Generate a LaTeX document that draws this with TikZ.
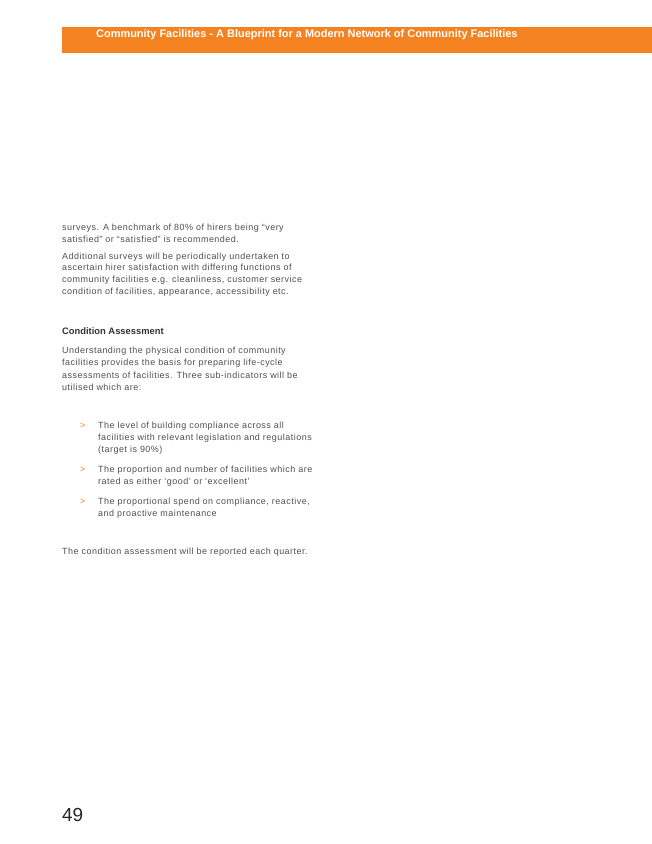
\documentclass[tikz,border=0pt]{standalone}
\usepackage{fontspec}
\setmainfont{Liberation Sans}
\newfontfamily\bodyfont[LetterSpace=5.5]{Liberation Sans}
\definecolor{orng}{HTML}{F58220}
\definecolor{txt}{HTML}{505050}
\begin{document}
\begin{tikzpicture}[x=1bp,y=-1bp,
  body/.style={anchor=west,inner sep=0pt,text=txt,font=\bodyfont\fontsize{9}{10}\selectfont},
  bul/.style={anchor=west,inner sep=0pt,text=orng,font=\bodyfont\fontsize{9}{10}\selectfont}]
\useasboundingbox[fill=white] (0,0) rectangle (652,844);
\fill[orng] (62,27) rectangle (652,53);
\node[anchor=west,inner sep=0pt,text=white,font=\bfseries\fontsize{11}{13}\selectfont] (title) at (96,34.5) {Community Facilities - A Blueprint for a Modern Network of Community Facilities};
\node[body] (l1) at (62,228) {surveys. A benchmark of 80\% of hirers being “very};
\node[body] (l2) at (62,239.5) {satisfied” or “satisfied” is recommended.};
\node[body] (l3) at (62,257) {Additional surveys will be periodically undertaken to};
\node[body] (l4) at (62,268.5) {ascertain hirer satisfaction with differing functions of};
\node[body] (l5) at (62,280) {community facilities e.g. cleanliness, customer service};
\node[body] (l6) at (62,292) {condition of facilities, appearance, accessibility etc.};
\node[body,font=\bfseries\fontsize{9.4}{10}\selectfont,text=black!80] (h) at (62,331) {Condition Assessment};
\node[body] (m1) at (62,351) {Understanding the physical condition of community};
\node[body] (m2) at (62,363) {facilities provides the basis for preparing life-cycle};
\node[body] (m3) at (62,375) {assessments of facilities. Three sub-indicators will be};
\node[body] (m4) at (62,387) {utilised which are:};
\node[bul] (b1) at (80,426) {>};
\node[body] (b1a) at (98,426) {The level of building compliance across all};
\node[body] (b1b) at (98,438) {facilities with relevant legislation and regulations};
\node[body] (b1c) at (98,450) {(target is 90\%)};
\node[bul] (b2) at (80,470) {>};
\node[body] (b2a) at (98,470) {The proportion and number of facilities which are};
\node[body] (b2b) at (98,482) {rated as either ‘good’ or ‘excellent’};
\node[bul] (b3) at (80,502) {>};
\node[body] (b3a) at (98,502) {The proportional spend on compliance, reactive,};
\node[body] (b3b) at (98,514) {and proactive maintenance};
\node[body] (last) at (62,552) {The condition assessment will be reported each quarter.};
\node[anchor=west,inner sep=0pt,text=black!85,font=\fontsize{19}{22}\selectfont] (pg) at (62,815) {49};
\end{tikzpicture}
\end{document}
